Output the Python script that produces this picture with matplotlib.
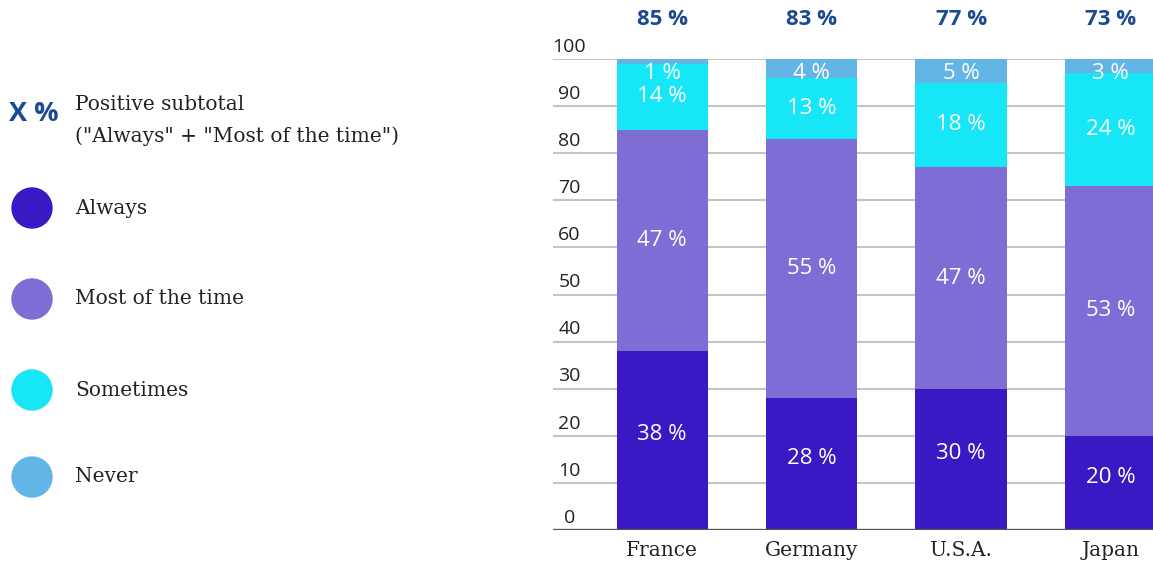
import matplotlib.pyplot as plt
from matplotlib.patches import Circle

countries = ["France", "Germany", "U.S.A.", "Japan"]
always = [38, 28, 30, 20]
most_time = [47, 55, 47, 53]
sometimes = [14, 13, 18, 24]
never = [1, 4, 5, 3]
subtotal = [85, 83, 77, 73]
y_ticks = [0, 10, 20, 30, 40, 50, 60, 70, 80, 90, 100]

series = [
    ("Always", always, "#3a19c5"),
    ("Most of the time", most_time, "#7f6dd6"),
    ("Sometimes", sometimes, "#17e6f6"),
    ("Never", never, "#63b5e6"),
]

SANS = ["Open Sans", "DejaVu Sans"]
SERIF = ["DejaVu Serif"]
DARK_BLUE = "#1b4a92"

W, H = 1153, 568
fig = plt.figure(figsize=(W / 100, H / 100), dpi=100)

# main chart
ax = fig.add_axes([553 / W, 1 - 530 / H, 600 / W, (530 - 59) / H])
x = list(range(len(countries)))
bottom = [0] * len(countries)
for name, vals, color in series:
    ax.bar(x, vals, bottom=bottom, width=0.61, color=color, zorder=3)
    for i, v in enumerate(vals):
        if name == "Never":
            ypos = 97.0
        else:
            ypos = bottom[i] + v / 2 + (1.2 if name == "Always" else 0)
        ax.text(i, ypos, f"{v} %", ha="center", va="center", color="white",
                fontsize=16, family=SANS, zorder=4)
    bottom = [b + v for b, v in zip(bottom, vals)]

for i, s in enumerate(subtotal):
    ax.text(i, 108.3, f"{s} %", ha="center", va="center", color=DARK_BLUE,
            fontsize=16, fontweight="bold", family=SANS, clip_on=False)

ax.set_xlim(-0.73, 3.284)
ax.set_ylim(0, 100)
for t in y_ticks[1:]:
    ax.axhline(t, color="#c4c4c4", lw=1.5, zorder=1)
ax.axhline(0, color="#555555", lw=2.4, zorder=5)
for t in y_ticks:
    ax.text(-0.62, t + 0.7, str(t), ha="center", va="bottom", fontsize=14,
            color="#222222", family=SANS)

ax.set_xticks(x)
ax.set_xticklabels(countries, family=SERIF, fontsize=14.5, color="#222222")
ax.tick_params(axis="x", length=0, pad=8)
ax.set_yticks([])
for sp in ax.spines.values():
    sp.set_visible(False)

# legend drawn in pixel space
lg = fig.add_axes([0, 0, 1, 1])
lg.set_xlim(0, W)
lg.set_ylim(H, 0)
lg.axis("off")
lg.text(34, 114, "X %", ha="center", va="center", color=DARK_BLUE,
        fontsize=19.5, fontweight="bold", family=SANS)
lg.text(75, 104, "Positive subtotal", ha="left", va="center", fontsize=14.5,
        family=SERIF, color="#222222")
lg.text(75, 136, '("Always" + "Most of the time")', ha="left", va="center",
        fontsize=14.5, family=SERIF, color="#222222")
legend_y = [208, 299, 390, 477]
for (name, vals, color), yy in zip(series, legend_y):
    lg.add_patch(Circle((32, yy), 20, color=color))
    lg.text(75, yy, name, ha="left", va="center", fontsize=14.5, family=SERIF,
            color="#222222")

fig.savefig("out.png", dpi=100)
